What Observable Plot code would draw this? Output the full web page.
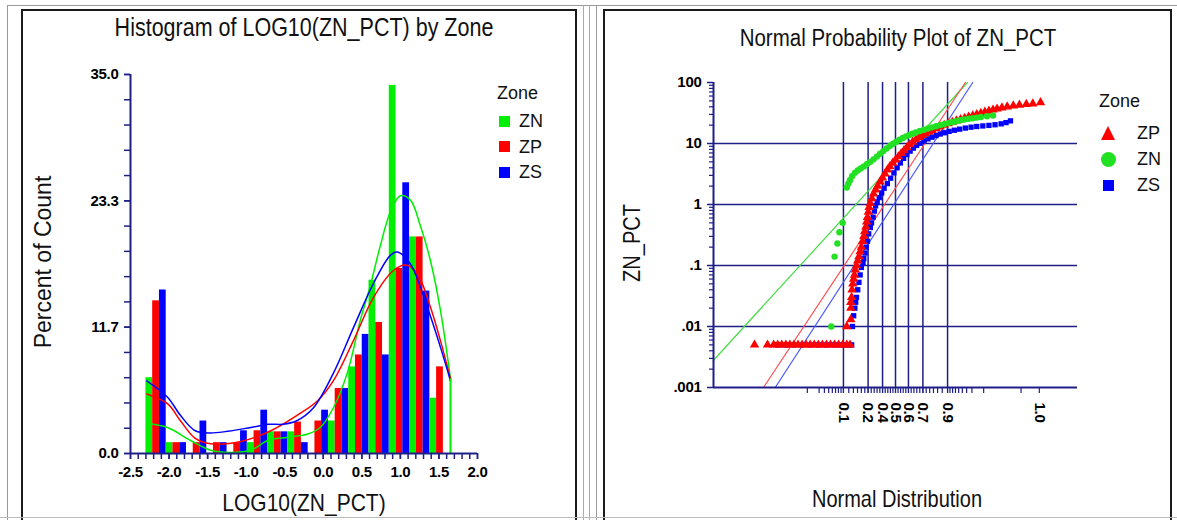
<!DOCTYPE html>
<html><head><meta charset="utf-8">
<script src="https://cdn.jsdelivr.net/npm/d3@7"></script>
<script src="https://cdn.jsdelivr.net/npm/@observablehq/plot@0.6"></script>
<style>
html,body{margin:0;padding:0;background:#fff;}
#page{position:relative;width:1177px;height:520px;overflow:hidden;font-family:'Liberation Sans',Arial,sans-serif;color:#111;}
.abs{position:absolute;}
.t{position:absolute;white-space:nowrap;line-height:1;}
.c{transform:translate(-50%,-50%);}
.tall{transform:translate(-50%,-50%) scaleY(1.18);}
.l{transform:translate(0,-50%);}
.rot{transform:translate(-50%,-50%) rotate(-90deg);}
.rotn{transform:translate(-50%,-50%) rotate(-90deg) scaleY(1.2);}
#left svg text, #right svg text{font-size:15px !important;font-weight:bold;letter-spacing:-0.3px;}
</style></head>
<body><div id="page">
  <div class="abs" style="left:7px;top:5px;width:1170px;height:0;border-top:1px solid #999"></div>
  <div class="abs" style="left:7px;top:5px;width:0;height:520px;border-left:1px solid #999"></div>
  <div class="abs" style="left:583px;top:5px;width:0;height:520px;border-left:1px solid #aaa"></div>
  <div class="abs" style="left:589px;top:5px;width:0;height:520px;border-left:1px solid #aaa"></div>
  <div class="abs" style="left:596px;top:5px;width:0;height:520px;border-left:1px solid #999"></div>
  <div class="abs" style="left:21px;top:9px;width:552px;height:540px;border:2px solid #1a1a1a"></div>
  <div class="abs" style="left:603px;top:9px;width:565px;height:540px;border:2px solid #1a1a1a"></div>
  <div class="abs" style="left:0;top:517px;width:1177px;height:0;border-top:1px solid #bbb"></div>
  <div id="left" class="abs" style="left:0;top:0"></div>
  <div id="right" class="abs" style="left:590px;top:0"></div>

  <div class="t tall" style="left:304px;top:29px;font-size:21.5px">Histogram of LOG10(ZN_PCT) by Zone</div>
  <div class="t tall" style="left:898px;top:38px;font-size:20.5px">Normal Probability Plot of ZN_PCT</div>
  <div class="t tall" style="left:304px;top:502px;font-size:21px">LOG10(ZN_PCT)</div>
  <div class="t tall" style="left:897px;top:499px;font-size:20px">Normal Distribution</div>
  <div class="t rot" style="left:43px;top:262px;font-size:23px">Percent of Count</div>
  <div class="t rotn" style="left:632px;top:243px;font-size:20px">ZN_PCT</div>

  <div id="legL"></div>
  <div id="legR"></div>
</div>
<script>
// ---------------- data ----------------
const zones = ["ZN", "ZP", "ZS"];
const zoneColors = ["#00ee00", "#ff0000", "#0000ff"];

// histogram of LOG10(ZN_PCT): 15 bins starting at binLow, percent of count per zone
const binLow = -2.3, binWidth = 0.263;
const pctZN = [7.0, 1.0, 0, 0, 0, 1.0, 2.0, 2.0, 0, 3.0, 8.0, 16.0, 34.0, 20.0, 5.1];
const pctZP = [14.1, 1.0, 1.0, 1.0, 1.0, 2.1, 2.0, 2.9, 3.0, 6.0, 9.1, 12.1, 17.1, 20.0, 8.0];
const pctZS = [15.1, 1.0, 3.0, 1.0, 2.1, 4.0, 2.0, 1.0, 4.0, 6.0, 11.0, 9.1, 25.0, 15.0, 0];

// density curves (x = LOG10(ZN_PCT), y = percent)
const densZN_x = [-2.29,-2.02,-1.72,-1.46,-1.20,-0.94,-0.72,-0.46,-0.20,-0.04,0.13,0.31,0.48,0.61,0.74,0.87,1.0,1.13,1.26,1.39,1.52,1.65];
const densZN_y = [2.8,2.4,1.2,0.3,0.1,0.3,1.2,1.5,1.8,2.4,4.2,7.4,12.3,15.5,19.2,22.3,23.8,23.4,21.0,17.8,13.2,6.9];
const densZP_x = [-2.29,-2.02,-1.85,-1.66,-1.46,-1.07,-0.68,-0.30,-0.07,0.13,0.39,0.65,0.91,1.07,1.22,1.39,1.52,1.65];
const densZP_y = [5.5,4.6,3.0,1.4,0.9,1.1,2.1,3.7,4.9,6.7,10.4,14.4,16.9,17.4,16.6,13.5,10.4,6.9];
const densZS_x = [-2.29,-2.02,-1.85,-1.66,-1.46,-0.94,-0.72,-0.52,-0.35,-0.13,0.13,0.39,0.65,0.87,0.96,1.13,1.35,1.52,1.65];
const densZS_y = [6.7,5.2,3.5,2.1,1.9,2.4,2.7,2.7,3.0,4.2,7.4,11.6,15.7,18.3,18.6,17.5,13.5,9.8,6.7];

const histXTickLabels = ["-2.5","-2.0","-1.5","-1.0","-0.5","0.0","0.5","1.0","1.5","2.0"];
const histYTickLabels = ["0.0","11.7","23.3","35.0"];

// normal probability plot: normal score (z) and ZN_PCT value per zone
const zpScore = [-3.47,-3.15,-3.0,-2.9,-2.8,-2.7,-2.6,-2.5,-2.4,-2.3,-2.2,-2.1,-2.0,-1.9,-1.8,-1.7,-1.6,-1.5,-1.4,-1.3,-1.2,-1.12,
  -1.2,-1.1,-1.1,-1.1,-1.08,-1.07,-1.05,-1.03,-1.01,-0.99,-0.96,-0.93,-0.9,-0.87,-0.84,-0.81,-0.78,-0.76,-0.73,-0.71,-0.69,-0.67,-0.65,-0.62,-0.58,-0.54,-0.49,-0.44,-0.38,-0.32,-0.26,-0.2,-0.14,-0.07,0,0.07,0.14,0.21,0.28,0.35,0.42,0.5,0.58,0.66,0.74,0.82,0.9,1.0,1.1,1.2,1.3,1.4,1.5,1.6,1.7,1.8,1.9,2.0,2.1,2.2,2.3,2.4,2.5,2.62,2.75,2.9,3.05,3.22,3.38,3.57];
const zpValue = [0.005,0.005,0.005,0.005,0.005,0.005,0.005,0.005,0.005,0.005,0.005,0.005,0.005,0.005,0.005,0.005,0.005,0.005,0.005,0.005,0.005,0.005,
  0.01,0.013,0.02,0.025,0.03,0.04,0.05,0.06,0.07,0.085,0.1,0.12,0.14,0.17,0.2,0.25,0.3,0.36,0.43,0.52,0.62,0.75,0.9,1.05,1.25,1.5,1.75,2.0,2.35,2.75,3.2,3.7,4.2,4.8,5.4,6.1,6.9,7.7,8.6,9.6,10.6,11.6,12.6,13.6,14.6,15.6,16.5,17.6,18.8,20,21.2,22.4,23.6,24.8,26,27.3,28.6,30,31.3,32.8,34.2,35.6,37,38.5,40,41.5,42.8,44,45,47];

const znScore = [-1.58,-1.5,-1.43,-1.38,-1.3,-1.2,-1.16,-1.12,-1.07,-1.0,-0.93,-0.86,-0.78,-0.7,-0.62,-0.54,-0.46,-0.38,-0.3,-0.22,-0.14,-0.06,0.02,0.1,0.18,0.26,0.34,0.42,0.5,0.6,0.7,0.8,0.9,1.0,1.1,1.2,1.3,1.4,1.5,1.6,1.7,1.8,1.9,2.0,2.1,2.25,2.4];
const znValue = [0.01,0.14,0.23,0.35,0.5,1.9,2.2,2.5,2.9,3.3,3.6,3.9,4.2,4.6,5.0,5.5,6.1,6.8,7.5,8.3,9.1,9.9,10.7,11.5,12.3,13.1,13.8,14.5,15.2,16,16.8,17.6,18.4,19.2,20,20.8,21.6,22.4,23.2,24,24.7,25.4,26,26.6,27.2,28,28.8];

const zsScore = [-2.9,-2.7,-2.5,-2.3,-2.1,-1.9,-1.7,-1.5,-1.35,-1.2,-1.14,-1.08,
  -1.06,-1.03,-1.0,-0.98,-0.96,-0.93,-0.9,-0.87,-0.84,-0.8,-0.78,-0.75,-0.72,-0.69,-0.66,-0.62,-0.59,-0.55,-0.52,-0.49,-0.45,-0.4,-0.34,-0.28,-0.2,-0.12,-0.04,0.04,0.12,0.2,0.28,0.36,0.44,0.52,0.6,0.7,0.8,0.9,1.0,1.1,1.2,1.32,1.45,1.58,1.72,1.86,2.0,2.15,2.3,2.45,2.6,2.72,2.83];
const zsValue = [0.005,0.005,0.005,0.005,0.005,0.005,0.005,0.005,0.005,0.005,0.005,0.005,
  0.01,0.015,0.02,0.025,0.03,0.04,0.053,0.07,0.093,0.11,0.13,0.16,0.2,0.25,0.33,0.42,0.5,0.62,0.78,0.95,1.1,1.3,1.55,1.85,2.2,2.7,3.3,4.0,4.8,5.7,6.6,7.5,8.4,9.3,10.1,11,11.9,12.7,13.5,14.3,15,15.8,16.5,17.2,17.9,18.5,19,19.4,19.8,20.3,21,22,23.5];

// fitted normal (lognormal) reference lines: endpoints [z, value]
const fitZN = [[-4.48, 0.0028], [1.77, 100]];
const fitZP = [[-3.25, 0.001], [1.72, 100]];
const fitZS = [[-2.96, 0.001], [1.9, 100]];

const probLabelValues = [0.1, 0.25, 0.375, 0.5, 0.625, 0.75, 0.9, 0.9998];
const probLabels = ["0.1","0.2","0.4","0.5","0.6","0.7","0.9","1.0"];
const logTickValues = [0.001, 0.01, 0.1, 1, 10, 100];
const logTickLabels = [".001", ".01", ".1", "1", "10", "100"];

// --------------- helpers ---------------
const navy = "#1f1f88";
function qnorm(p) {
  const a=[-3.969683028665376e+01,2.209460984245205e+02,-2.759285104469687e+02,1.383577518672690e+02,-3.066479806614716e+01,2.506628277459239e+00];
  const b=[-5.447609879822406e+01,1.615858368580409e+02,-1.556989798598866e+02,6.680131188771972e+01,-1.328068155288572e+01];
  const c=[-7.784894002430293e-03,-3.223964580411365e-01,-2.400758277161838e+00,-2.549732539343734e+00,4.374664141464968e+00,2.938163982698783e+00];
  const d=[7.784695709041462e-03,3.224671290700398e-01,2.445134137142996e+00,3.754408661907416e+00];
  const pl = 0.02425; let q, r;
  if (p < pl) { q = Math.sqrt(-2*Math.log(p)); return (((((c[0]*q+c[1])*q+c[2])*q+c[3])*q+c[4])*q+c[5])/((((d[0]*q+d[1])*q+d[2])*q+d[3])*q+1); }
  if (p <= 1 - pl) { q = p - 0.5; r = q*q; return (((((a[0]*r+a[1])*r+a[2])*r+a[3])*r+a[4])*r+a[5])*q/(((((b[0]*r+b[1])*r+b[2])*r+b[3])*r+b[4])*r+1); }
  q = Math.sqrt(-2*Math.log(1-p)); return -(((((c[0]*q+c[1])*q+c[2])*q+c[3])*q+c[4])*q+c[5])/((((d[0]*q+d[1])*q+d[2])*q+d[3])*q+1);
}
const colorOf = Object.fromEntries(zones.map((z, i) => [z, zoneColors[i]]));

// --------------- left: histogram ---------------
const pctByZone = {ZN: pctZN, ZP: pctZP, ZS: pctZS};
const bars = [];
for (let k = 0; k < pctZN.length; k++) zones.forEach((zn, j) => {
  const x1 = binLow + k * binWidth + j * binWidth / 3;
  bars.push({zone: zn, x1, x2: x1 + binWidth / 3, pct: pctByZone[zn][k]});
});
const dens = [];
[["ZN", densZN_x, densZN_y], ["ZP", densZP_x, densZP_y], ["ZS", densZS_x, densZS_y]].forEach(([zn, xs, ys]) =>
  xs.forEach((x, i) => dens.push({zone: zn, x, y: ys[i]})));
const drops = [["ZP", densZP_x, densZP_y], ["ZN", densZN_x, densZN_y]].map(([zn, xs, ys]) => ({zone: zn, x: xs[xs.length-1], y: ys[ys.length-1]}));

const xMajor = histXTickLabels.map(Number);
const xMinor = d3.range(-25, 21).map(i => i / 10);
const yMajor = histYTickLabels.map((s, i) => i * 35 / 3);
const yMinor = d3.range(0, 16).map(i => i * 35 / 15);

const leftPlot = Plot.plot({
  width: 590, height: 520,
  marginLeft: 130, marginRight: 113, marginTop: 74, marginBottom: 67,
  x: {domain: [-2.5, 2.0], label: null},
  y: {domain: [0, 35], label: null},
  color: {domain: zones, range: zoneColors},
  style: {background: "transparent", fontFamily: "'Liberation Sans', Arial, sans-serif", color: "#000", overflow: "visible"},
  marks: [
    Plot.rectY(bars, {x1: "x1", x2: "x2", y: "pct", fill: "zone"}),
    Plot.line(dens, {x: "x", y: "y", z: "zone", stroke: "zone", curve: "catmull-rom", strokeWidth: 1.5}),
    Plot.ruleX(drops, {x: "x", y1: 0, y2: "y", stroke: "zone", strokeWidth: 1.5}),
    Plot.axisY(yMinor, {anchor: "left", tickSize: 6, tickFormat: () => "", stroke: navy, strokeWidth: 1.5}),
    Plot.axisY(yMajor, {anchor: "left", tickSize: 6, tickPadding: 6, tickFormat: (d) => histYTickLabels[yMajor.indexOf(d)], stroke: navy, strokeWidth: 1.5, fill: "#000"}),
    Plot.axisX(xMinor, {anchor: "bottom", tickSize: 6, tickFormat: () => "", stroke: navy, strokeWidth: 1.5}),
    Plot.axisX(xMajor, {anchor: "bottom", tickSize: 6, tickPadding: 7, tickFormat: (d) => histXTickLabels[xMajor.indexOf(d)], stroke: navy, strokeWidth: 1.5, fill: "#000"}),
    Plot.ruleX([-2.5], {y1: 0, y2: 35, stroke: navy, strokeWidth: 2}),
    Plot.ruleY([0], {x1: -2.5, x2: 2.0, stroke: navy, strokeWidth: 2})
  ]
});
document.getElementById("left").appendChild(leftPlot);

// --------------- right: normal probability plot ---------------
const toPts = (zn, zs, vs) => zs.map((z, i) => ({zone: zn, z, v: vs[i]}));
const ptsZP = toPts("ZP", zpScore, zpValue);
const ptsZN = toPts("ZN", znScore, znValue);
const ptsZS = toPts("ZS", zsScore, zsValue);
const fits = [["ZN", fitZN], ["ZP", fitZP], ["ZS", fitZS]].flatMap(([zn, f]) => f.map(([z, v]) => ({zone: zn, z, v})));
const fitColors = {ZN: "#44dd44", ZP: "#ff5050", ZS: "#4a5aff"};

const gridZ = probLabelValues.slice(0, 7).map(qnorm);
const labelZ = probLabelValues.map(qnorm);
const minorProbs = [0.015,0.03,0.04,0.05,0.06,0.07,0.08,0.09]
  .concat(d3.range(0, 33).map(i => 0.1 + i * 0.025))
  .concat([0.91,0.92,0.93,0.94,0.95,0.96,0.97,0.985,0.999]);
const minorZ = minorProbs.map(qnorm);
const logMinor = [];
for (let e = -3; e < 2; e++) for (let m = 2; m <= 9; m++) logMinor.push(m * Math.pow(10, e));
const zMin = -4.48, zMax = 4.48;

const rightPlot = Plot.plot({
  width: 587, height: 520,
  marginLeft: 123, marginRight: 100, marginTop: 82, marginBottom: 133,
  x: {domain: [zMin, zMax], label: null},
  y: {type: "log", domain: [0.001, 100], label: null},
  style: {background: "transparent", fontFamily: "'Liberation Sans', Arial, sans-serif", color: "#000", overflow: "visible"},
  marks: [
    Plot.ruleX(gridZ, {y1: 0.001, y2: 100, stroke: navy, strokeWidth: 1.5}),
    Plot.ruleY([0.01, 0.1, 1, 10], {x1: zMin, x2: zMax, stroke: navy, strokeWidth: 1.5}),
    Plot.line(fits, {x: "z", y: "v", z: "zone", stroke: d => fitColors[d.zone], strokeWidth: 1.2}),
    Plot.dot(ptsZS, {x: "z", y: "v", symbol: "square", fill: colorOf.ZS, r: 3}),
    Plot.dot(ptsZP, {x: "z", y: "v", symbol: "triangle", fill: colorOf.ZP, r: 3.5}),
    Plot.dot(ptsZN, {x: "z", y: "v", symbol: "circle", fill: "#22e022", r: 3.2}),
    Plot.axisY(logMinor, {anchor: "left", tickSize: 4, tickFormat: () => "", stroke: navy, strokeWidth: 1.2}),
    Plot.axisY(logTickValues, {anchor: "left", tickSize: 6, tickPadding: 6, tickFormat: (d) => logTickLabels[logTickValues.indexOf(d)], stroke: navy, strokeWidth: 1.5, fill: "#000"}),
    Plot.axisX(minorZ, {anchor: "bottom", tickSize: 6, tickFormat: () => "", stroke: navy, strokeWidth: 1.2}),
    Plot.axisX(labelZ, {anchor: "bottom", tickSize: 6, tickPadding: 9, tickRotate: 90, tickFormat: (d) => probLabels[labelZ.indexOf(d)], stroke: navy, strokeWidth: 1.2, fill: "#000"}),
    Plot.ruleX([zMin], {y1: 0.001, y2: 100, stroke: navy, strokeWidth: 2}),
    Plot.ruleY([0.001], {x1: zMin, x2: zMax, stroke: navy, strokeWidth: 2})
  ]
});
document.getElementById("right").appendChild(rightPlot);

// --------------- legends ---------------
function txt(parent, s, x, y, size, cls) {
  const d = document.createElement("div");
  d.className = "t " + cls; d.textContent = s;
  d.style.left = x + "px"; d.style.top = y + "px"; d.style.fontSize = size + "px";
  parent.appendChild(d);
}
function shape(parent, kind, color, cx, cy) {
  const d = document.createElement("div");
  d.className = "abs";
  if (kind === "square") { d.style.cssText += `left:${cx-5.5}px;top:${cy-5.5}px;width:11px;height:11px;background:${color}`; }
  if (kind === "circle") { d.style.cssText += `left:${cx-7.5}px;top:${cy-7.5}px;width:15px;height:15px;border-radius:50%;background:${color}`; }
  if (kind === "triangle") { d.style.cssText += `left:${cx-7.5}px;top:${cy-7}px;width:0;height:0;border-left:7.5px solid transparent;border-right:7.5px solid transparent;border-bottom:14px solid ${color}`; }
  parent.appendChild(d);
}
const legL = document.getElementById("legL");
txt(legL, "Zone", 497, 93, 18, "l");
const legLOrder = ["ZN", "ZP", "ZS"];
legLOrder.forEach((zn, i) => {
  shape(legL, "square", colorOf[zn], 504, 121 + i * 25.5);
  txt(legL, zn, 519, 121 + i * 25.5, 18, "l");
});
const legR = document.getElementById("legR");
txt(legR, "Zone", 1099, 101, 18, "l");
const legROrder = [["ZP", "triangle", colorOf.ZP], ["ZN", "circle", "#22e022"], ["ZS", "square", colorOf.ZS]];
legROrder.forEach(([zn, kind, col], i) => {
  shape(legR, kind, col, 1108, 133 + i * 26);
  txt(legR, zn, 1137, 133 + i * 26, 18, "l");
});
</script>
</body></html>
